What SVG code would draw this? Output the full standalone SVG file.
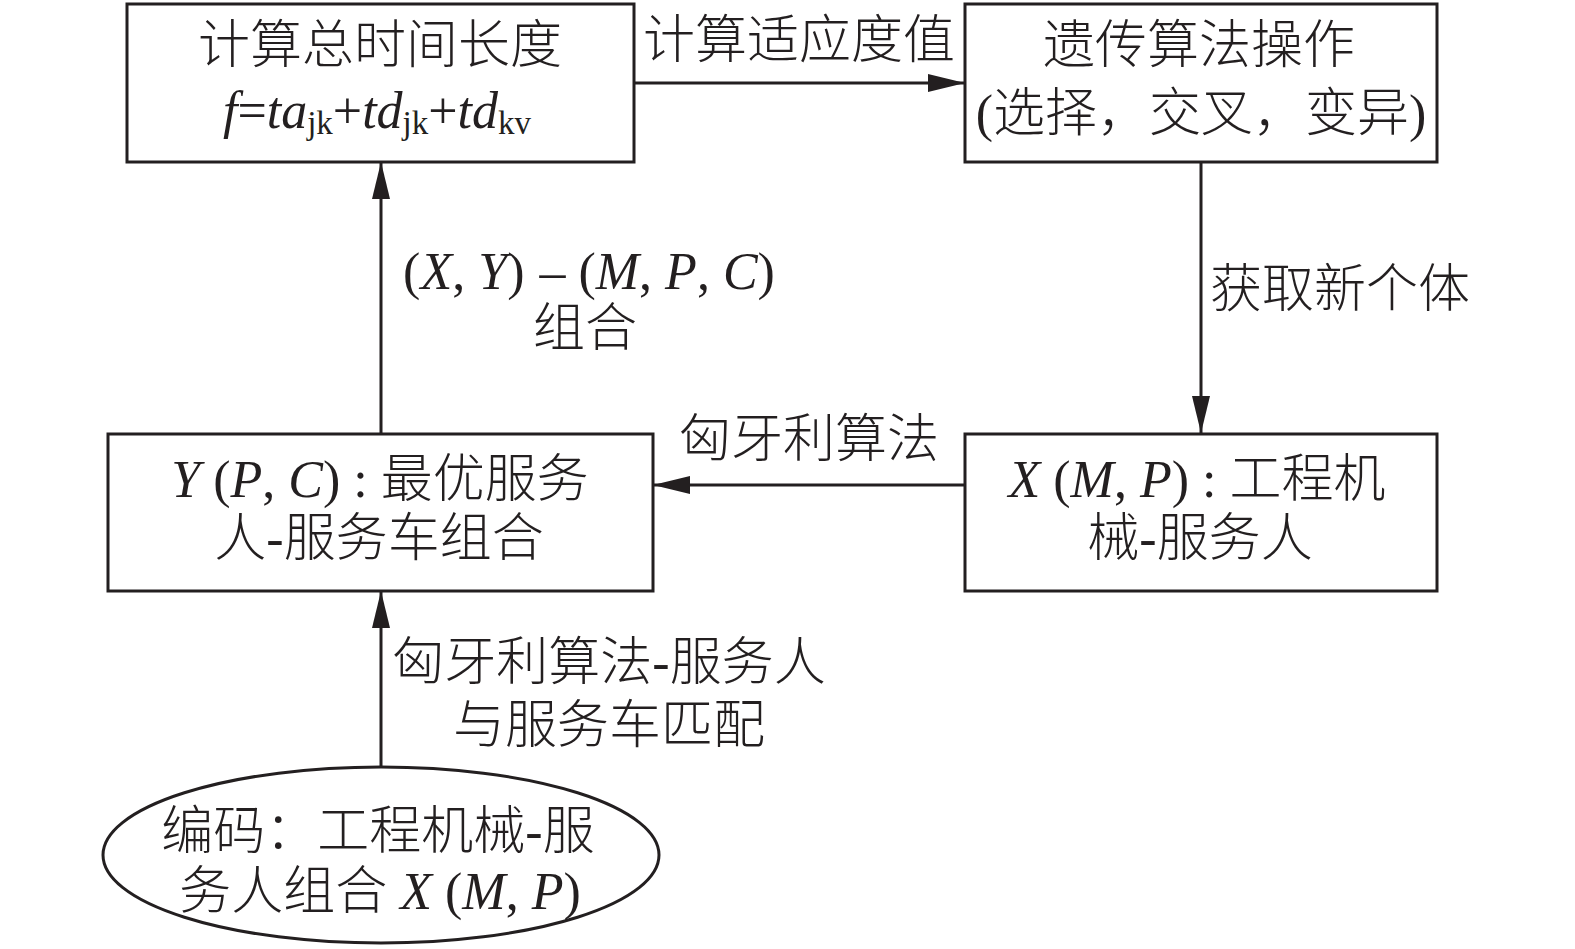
<svg xmlns="http://www.w3.org/2000/svg" width="1575" height="949" viewBox="0 0 1575 949">
<style>
.box{fill:#fff;stroke:#231f20;stroke-width:3}
.ln{fill:none;stroke:#231f20;stroke-width:3}
text{font-family:"Liberation Serif","Noto Sans CJK SC",serif;font-size:52px;font-weight:300;fill:#231f20;text-anchor:middle}
.i{font-style:italic}
.s{font-size:33px}
</style>
<defs>
<marker id="ah" markerUnits="userSpaceOnUse" markerWidth="38" markerHeight="20" refX="37" refY="10" orient="auto">
<path d="M0,1 L37,10 L0,19 z" fill="#231f20"/>
</marker>
</defs>
<rect width="1575" height="949" fill="#fff"/>
<g id="connectors">
<line class="ln" x1="634" y1="83" x2="965" y2="83" marker-end="url(#ah)"/>
<line class="ln" x1="1201" y1="162" x2="1201" y2="433" marker-end="url(#ah)"/>
<line class="ln" x1="965" y1="485" x2="653" y2="485" marker-end="url(#ah)"/>
<line class="ln" x1="381" y1="434" x2="381" y2="162" marker-end="url(#ah)"/>
<line class="ln" x1="381" y1="767" x2="381" y2="591" marker-end="url(#ah)"/>
<text x="799" y="58">计算适应度值</text>
<text x="1340" y="307">获取新个体</text>
<text x="809" y="457">匈牙利算法</text>
<text x="589" y="289">(<tspan class="i">X</tspan>, <tspan class="i">Y</tspan>) <tspan dx="2">–</tspan> (<tspan class="i">M</tspan>, <tspan class="i">P</tspan>, <tspan class="i">C</tspan>)</text>
<text x="585" y="346">组合</text>
<text x="609" y="680">匈牙利算法-服务人</text>
<text x="609" y="743">与服务车匹配</text>
</g>
<g id="node-total-time">
<rect class="box" x="127" y="4" width="507" height="158"/>
<text x="380" y="63">计算总时间长度</text>
<text x="377" y="128"><tspan class="i">f</tspan>=<tspan class="i">ta</tspan><tspan class="s" dy="6">jk</tspan><tspan dy="-6">+</tspan><tspan class="i">td</tspan><tspan class="s" dy="6">jk</tspan><tspan dy="-6">+</tspan><tspan class="i">td</tspan><tspan class="s" dy="6">kv</tspan></text>
</g>
<g id="node-ga">
<rect class="box" x="965" y="4" width="472" height="158"/>
<text x="1199" y="63">遗传算法操作</text>
<text x="1201" y="131">(选择，交叉，变异)</text>
</g>
<g id="node-y">
<rect class="box" x="108" y="434" width="545" height="157"/>
<text x="380" y="497"><tspan class="i">Y</tspan> (<tspan class="i">P</tspan>, <tspan class="i">C</tspan>) : 最优服务</text>
<text x="379" y="556">人-服务车组合</text>
</g>
<g id="node-x">
<rect class="box" x="965" y="434" width="472" height="157"/>
<text x="1197" y="497"><tspan class="i">X</tspan> (<tspan class="i">M</tspan>, <tspan class="i">P</tspan>) : 工程机</text>
<text x="1200" y="556">械-服务人</text>
</g>
<g id="node-encode">
<ellipse class="box" cx="381" cy="855" rx="278" ry="88"/>
<text x="378" y="849">编码：工程机械-服</text>
<text x="380" y="909">务人组合 <tspan class="i">X</tspan> (<tspan class="i">M</tspan>, <tspan class="i">P</tspan>)</text>
</g>
</svg>
